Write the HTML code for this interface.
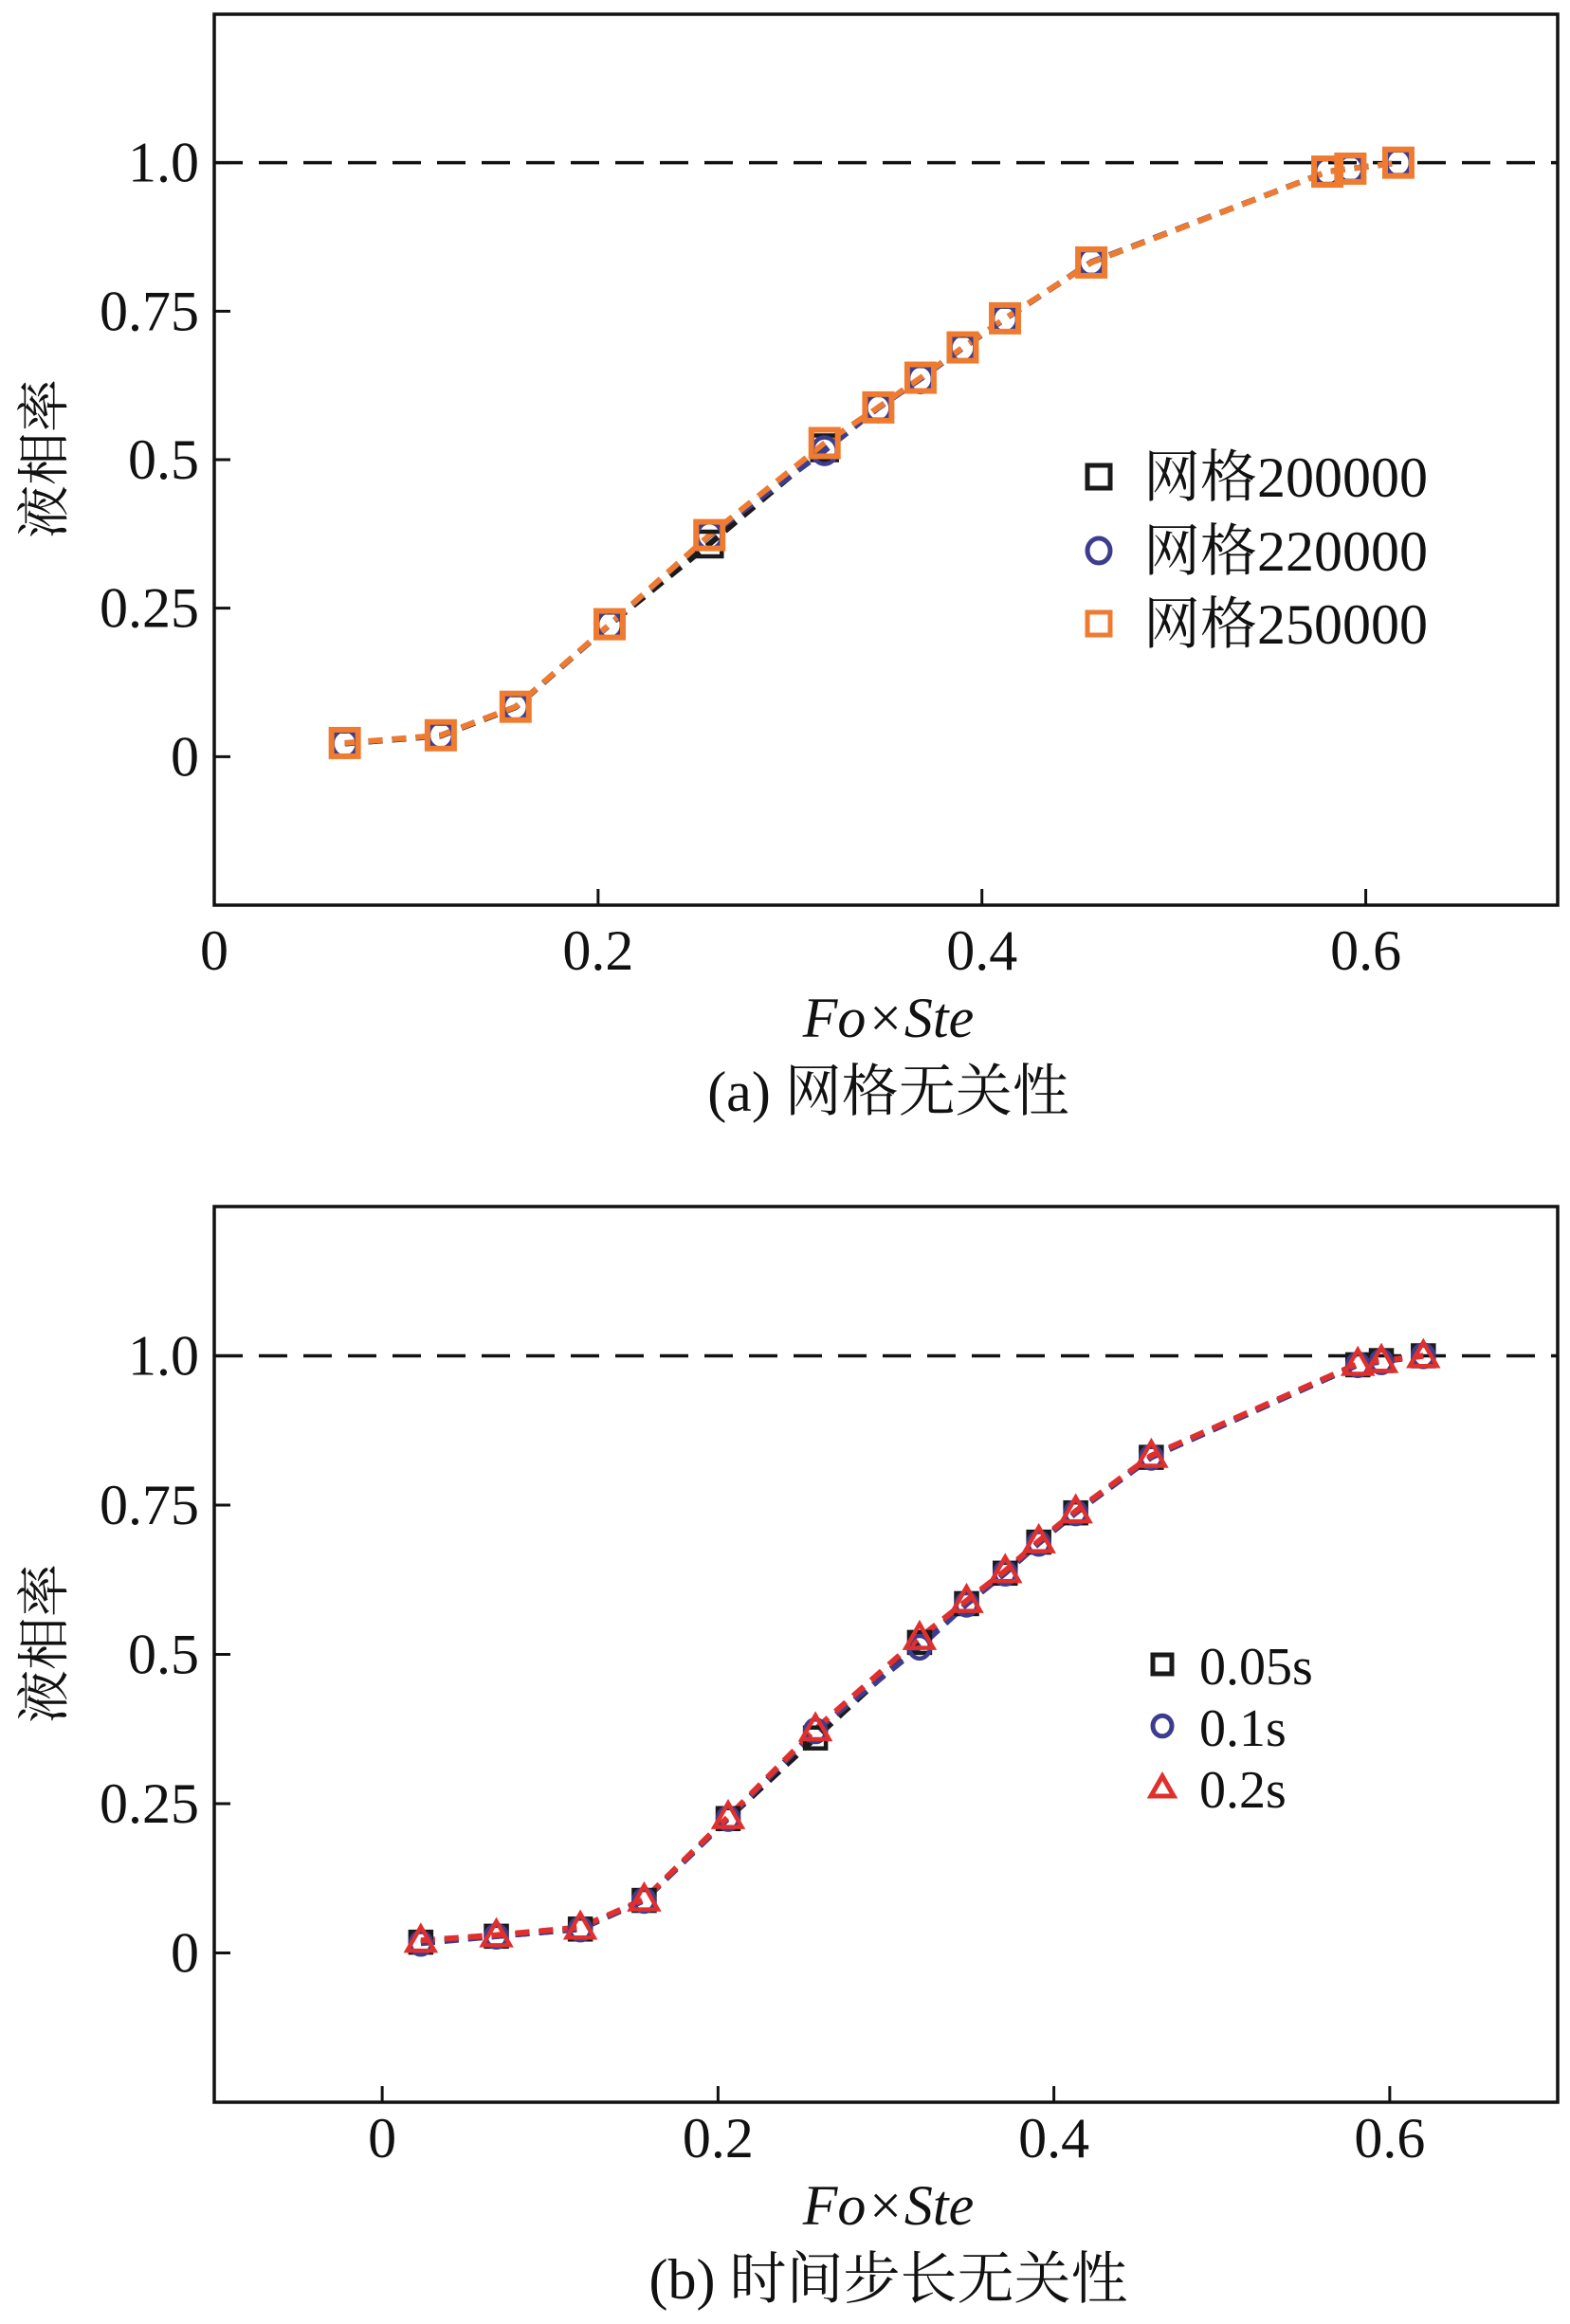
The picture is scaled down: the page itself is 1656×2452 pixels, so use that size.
<!DOCTYPE html>
<html><head><meta charset="utf-8"><style>
html,body{margin:0;padding:0;background:#fff}
svg{display:block}
text{font-family:"Liberation Serif","Noto Serif CJK SC","Noto Sans CJK SC",serif;fill:#111}
</style></head><body>
<svg id="chart" width="1656" height="2452" viewBox="0 0 1656 2452" xmlns="http://www.w3.org/2000/svg"></svg>
<script>
// Panel (a) data
const aX1 = [0.068,0.118,0.157,0.206,0.258,0.318,0.346,0.368,0.39,0.412,0.457,0.58,0.592,0.617];
const aY_grid200k = [0.022,0.035,0.083,0.222,0.358,0.52,0.588,0.637,0.688,0.737,0.832,0.985,0.99,1.0];
const aY_grid220k = [0.022,0.036,0.084,0.222,0.372,0.515,0.587,0.636,0.688,0.737,0.833,0.985,0.99,1.0];
const aY_grid250k = [0.023,0.036,0.084,0.223,0.373,0.528,0.588,0.638,0.689,0.738,0.832,0.985,0.99,1.0];
// Panel (b) data
const bX = [0.023,0.068,0.118,0.156,0.206,0.258,0.32,0.348,0.371,0.391,0.413,0.458,0.581,0.595,0.62];
const bY_dt005 = [0.018,0.028,0.04,0.088,0.225,0.36,0.52,0.585,0.636,0.688,0.737,0.83,0.985,0.992,1.0];
const bY_dt01 = [0.016,0.028,0.04,0.088,0.225,0.372,0.512,0.584,0.636,0.686,0.737,0.83,0.985,0.99,1.0];
const bY_dt02 = [0.021,0.03,0.043,0.09,0.228,0.375,0.528,0.59,0.64,0.69,0.74,0.833,0.987,0.992,1.0];
const yTicks = [0, 0.25, 0.5, 0.75, 1.0];
const yTickLabels = ["0","0.25","0.5","0.75","1.0"];
const aXTicks = [0, 0.2, 0.4, 0.6];
const bXTicks = [0, 0.2, 0.4, 0.6];
const xTickLabels = ["0","0.2","0.4","0.6"];
const aLegend = ["网格200000","网格220000","网格250000"];
const bLegend = ["0.05s","0.1s","0.2s"];

const NS = "http://www.w3.org/2000/svg";
const svg = document.getElementById('chart');
function mk(tag, attrs, parent, txt){
  const e = document.createElementNS(NS, tag);
  for (const k in attrs) e.setAttribute(k, attrs[k]);
  if (txt !== undefined) e.textContent = txt;
  (parent||svg).appendChild(e);
  return e;
}
function marker(g, type, x, y, color, s, sw){
  let e;
  if (type === 'sq') e = mk('rect', {x:x-s/2, y:y-s/2, width:s, height:s, fill:'none', stroke:color, 'stroke-width':sw}, g);
  else if (type === 'ci') e = mk('ellipse', {cx:x, cy:y, rx:s/2, ry:s/2*1.08, fill:'none', stroke:color, 'stroke-width':sw}, g);
  else e = mk('polygon', {points:`${x},${y-s*0.6} ${x-s*0.6},${y+s*0.45} ${x+s*0.6},${y+s*0.45}`, fill:'none', stroke:color, 'stroke-width':sw}, g);
  return e;
}
function panel(cfg){
  const {L,R,T,B,xmin,xmax,ymin,ymax} = cfg;
  const sx = v => L + (v-xmin)/(xmax-xmin)*(R-L);
  const sy = v => B - (v-ymin)/(ymax-ymin)*(B-T);
  const g = mk('g', {});
  
  
  const ref = mk('line', {x1:L, x2:R, y1:sy(1), y2:sy(1), stroke:'#111', 'stroke-width':3.5, 'stroke-dasharray':'30 17'}, g);
  
  
  cfg.series.forEach((s) => {
    const sg = mk('g', {}, g);
    
    
    const pts = s.ys.map((v,i) => sx(s.xs[i]) + ',' + sy(v)).join(' ');
    mk('polyline', {points:pts, fill:'none', stroke:s.color, 'stroke-width':6, 'stroke-dasharray':'15 10', 'stroke-linejoin':'round'}, sg);
  });
  cfg.series.forEach((s) => {
    s.ys.forEach((v,i) => {
      const m = marker(g, s.type, sx(s.xs[i]), sy(v), s.color, s.ms, s.sw);
      
      
    });
  });
  const fr = mk('rect', {x:L, y:T, width:R-L, height:B-T, fill:'none', stroke:'#111', 'stroke-width':3.5}, g);
  
  
  yTicks.forEach((v,i) => {
    mk('line', {x1:L, x2:L+17, y1:sy(v), y2:sy(v), stroke:'#111', 'stroke-width':3}, g);
    const t = mk('text', {x:L-16, y:sy(v)+20, 'text-anchor':'end', 'font-size':60}, g, yTickLabels[i]);
    
    
  });
  cfg.xticks.forEach((v,i) => {
    mk('line', {x1:sx(v), x2:sx(v), y1:B, y2:B-17, stroke:'#111', 'stroke-width':3}, g);
    const t = mk('text', {x:sx(v), y:cfg.xlabY, 'text-anchor':'middle', 'font-size':60}, g, xTickLabels[i]);
    
    
  });
  const xt = mk('text', {x:937, y:cfg.xtitleY, 'text-anchor':'middle', 'font-size':60, 'font-style':'italic'}, g, 'Fo×Ste');
  
  
  const yt = mk('text', {x:0, y:0, 'text-anchor':'middle', 'font-size':56, transform:`translate(66,${cfg.ytitleY}) rotate(-90)`}, g, '液相率');
  
  
  const cap = mk('text', {x:937, y:cfg.capY, 'text-anchor':'middle', 'font-size':60}, g, cfg.caption);
  
  
  cfg.series.forEach((s,i) => {
    const y = cfg.legY[i];
    const lg = mk('g', {}, g);
    
    
    marker(lg, s.type, cfg.legMX, y, s.color, cfg.legMS, 5);
    mk('text', {x:cfg.legTX, y:y+21, 'font-size':cfg.legFS}, lg, cfg.legend[i]);
  });
}
panel({name:'panel-a-grid-independence', L:226, R:1643, T:15, B:955, xmin:0, xmax:0.7, ymin:-0.25, ymax:1.25,
  xticks:aXTicks, xlabY:1023, xtitleY:1094, ytitleY:484, capY:1172, caption:'(a) 网格无关性',
  legend:aLegend, legY:[503,581,658], legMX:1159, legTX:1206, legMS:24, legFS:60,
  series:[
    {key:'grid-200000', xs:aX1, ys:aY_grid200k, color:'#1a1a1a', type:'sq', ms:26, sw:4.5},
    {key:'grid-220000', xs:aX1, ys:aY_grid220k, color:'#3d3d8f', type:'ci', ms:26, sw:4.5},
    {key:'grid-250000', xs:aX1, ys:aY_grid250k, color:'#ee7b30', type:'sq', ms:28, sw:6}
  ]});
panel({name:'panel-b-timestep-independence', L:226, R:1643, T:1273, B:2218, xmin:-0.1, xmax:0.7, ymin:-0.25, ymax:1.25,
  xticks:bXTicks, xlabY:2276, xtitleY:2347, ytitleY:1734, capY:2425, caption:'(b) 时间步长无关性',
  legend:bLegend, legY:[1756,1821,1886], legMX:1226, legTX:1265, legMS:20, legFS:56,
  series:[
    {key:'dt-0.05s', xs:bX, ys:bY_dt005, color:'#1a1a1a', type:'sq', ms:22, sw:4.5},
    {key:'dt-0.1s', xs:bX, ys:bY_dt01, color:'#3d3d8f', type:'ci', ms:22, sw:4.5},
    {key:'dt-0.2s', xs:bX, ys:bY_dt02, color:'#e0302e', type:'tri', ms:24, sw:4.5}
  ]});
</script>
</body></html>
